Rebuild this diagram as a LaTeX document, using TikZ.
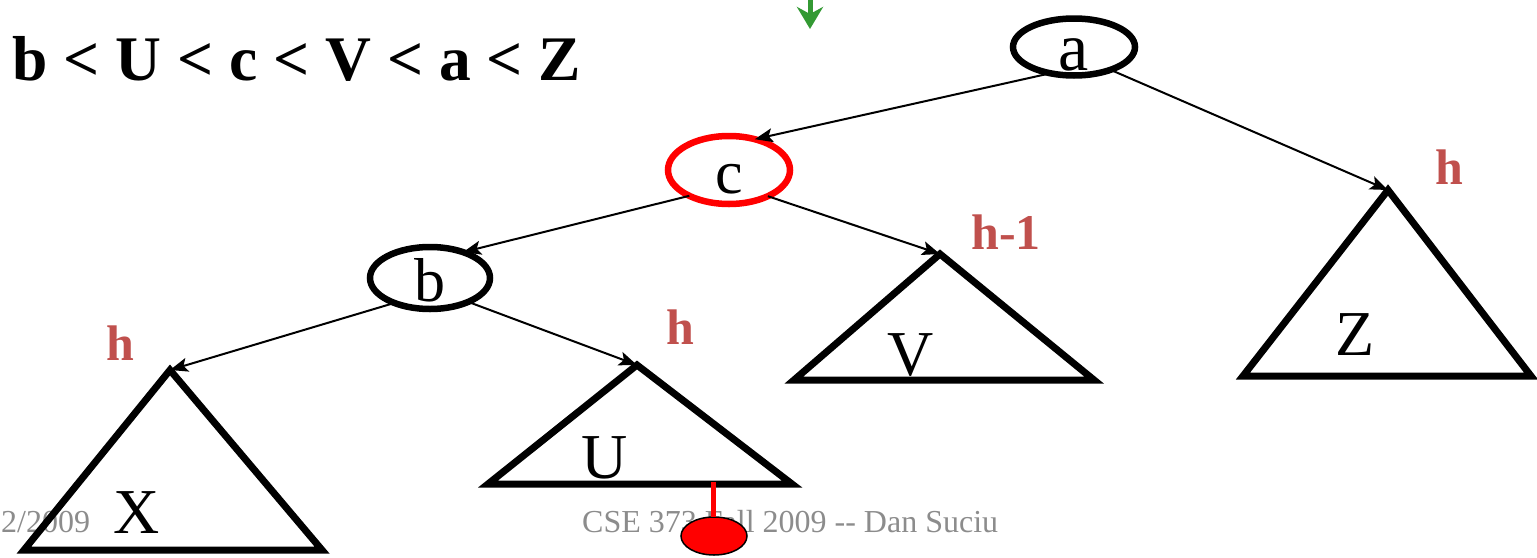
\documentclass[tikz,border=0pt]{standalone}
\usepackage{fontspec}
\setmainfont{Liberation Serif}
\usetikzlibrary{shapes.geometric,arrows.meta}
\definecolor{hred}{HTML}{C0504D}
\definecolor{garrow}{HTML}{339933}
\definecolor{foot}{HTML}{8C8C8C}
\newcommand\nodetxt[1]{\raisebox{-23pt}[0pt][0pt]{#1}}
\tikzset{
  treenode/.style={ellipse, draw=black, line width=6.5pt, inner sep=0pt, outer sep=0pt, font=\fontsize{62}{62}\selectfont},
  tri/.style={draw=black, line width=7pt, line join=miter},
  edge/.style={draw=black, line width=2pt, -{Stealth[length=18pt,width=14pt,inset=4pt]}},
  hlabel/.style={text=hred, font=\fontsize{50}{50}\selectfont\bfseries, anchor=base, inner sep=0pt},
  tlabel/.style={font=\fontsize{64}{64}\selectfont, anchor=base, inner sep=0pt},
  footer/.style={text=foot, font=\fontsize{32}{32}\selectfont, anchor=base west, inner sep=0pt}
}
\begin{document}
\begin{tikzpicture}[x=1pt,y=-1pt]
\useasboundingbox (0,0) rectangle (1537,557);
% footer (behind)
\node[footer] (f1) at (1,532) {2/2009};
\node[footer] (f2) at (582,532) {CSE 373 Fall 2009 {-}{-} Dan Suciu};
% title
\node[anchor=base west, inner sep=0pt, font=\fontsize{63.5}{63.5}\selectfont\bfseries] (title) at (12,80) {b < U < c < V < a < Z};
% tree nodes
\node[treenode, minimum width=122pt, minimum height=57pt, font=\fontsize{68}{68}\selectfont] (a) at (1074,47) {\nodetxt{a}};
\node[treenode, draw=red, minimum width=122pt, minimum height=68pt] (c) at (729,170) {\nodetxt{c}};
\node[treenode, minimum width=120pt, minimum height=62pt] (b) at (430,278) {\nodetxt{b}};
% subtree apexes
\coordinate (xa) at (170,370);
\coordinate (ua) at (637,365);
\coordinate (va) at (940,254);
\coordinate (za) at (1388,190);
% triangles
\draw[tri] (xa) -- (24,550) -- (322,550) -- cycle;
\draw[tri] (ua) -- (488,484) -- (792,484) -- cycle;
\draw[tri] (va) -- (794,380) -- (1094,380) -- cycle;
\draw[tri] (za) -- (1243,376) -- (1531,376) -- cycle;
% subtree labels
\node[tlabel] (lx) at (137,533) {X};
\node[tlabel] (lu) at (605,478) {U};
\node[tlabel] (lv) at (911,375) {V};
\node[tlabel] (lz) at (1355,355) {Z};
% heights
\node[hlabel] (hx) at (120,360) {h};
\node[hlabel] (hu) at (680,344) {h};
\node[hlabel] (hv) at (1006,249) {h-1};
\node[hlabel] (hz) at (1449,184) {h};
% edges
\draw[edge] (a.228) -- (c.50);
\draw[edge] (a.328) -- (za);
\draw[edge] (c.213) -- (b.38);
\draw[edge] (c.326) -- (va);
\draw[edge] (b.215) -- (xa);
\draw[edge] (b.328) -- (ua);
% green arrow
\coordinate (g1) at (810,-2);
\coordinate (g2) at (810,29);
\draw[garrow, line width=5pt, -{Stealth[length=22pt,width=26pt,inset=7pt]}] (g1) -- (g2);
% red insertion marker
\coordinate (r1) at (713,482);
\node[ellipse, fill=red, draw=black, line width=1.5pt, minimum width=66pt, minimum height=38pt, inner sep=0pt, outer sep=0pt] (rball) at (714,536) {};
\draw[red, line width=5pt] (r1) -- (rball.north -| r1);
\end{tikzpicture}
\end{document}
